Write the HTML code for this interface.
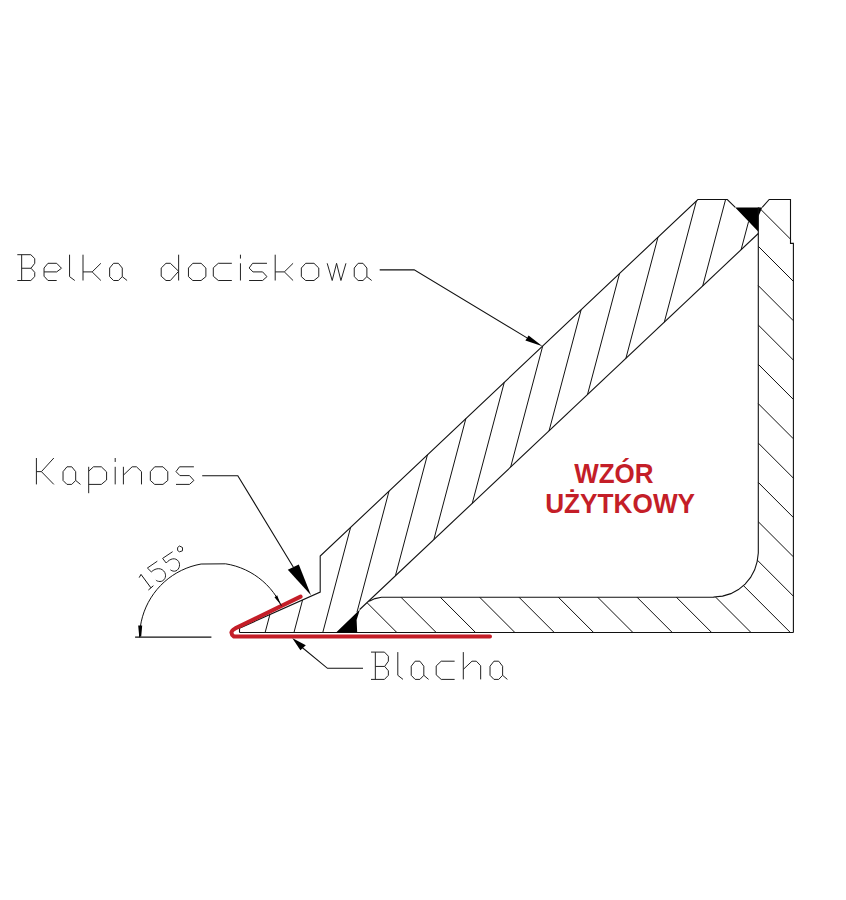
<!DOCTYPE html>
<html><head><meta charset="utf-8"><style>
html,body{margin:0;padding:0;background:#fff;width:846px;height:900px;overflow:hidden}
svg{display:block}
text{font-family:"Liberation Sans",sans-serif}
</style></head><body>
<svg width="846" height="900" viewBox="0 0 846 900">
<rect width="846" height="900" fill="#fff"/>
<path d="M17.30,254.70 L30.82,254.70 L34.74,258.57 L34.74,263.30 L31.03,268.25 L34.74,272.33 L34.74,276.63 L30.82,280.50 L17.30,280.50 M21.66,254.70 L21.66,280.50 M21.66,268.25 L31.03,268.25 M44.04,271.90 L56.68,271.90 L61.48,268.25 L56.68,263.30 L47.96,263.30 L44.04,268.03 L44.04,276.20 L47.96,280.50 L56.68,280.50 M69.55,254.70 L69.55,276.63 L74.78,280.50 M83.00,254.70 L83.00,280.50 M83.00,271.90 L92.16,271.90 L100.88,263.30 M92.16,271.90 L100.88,280.50 M122.28,276.63 L118.36,280.50 L113.56,280.50 L109.64,276.63 L109.64,268.03 L113.56,263.30 L118.36,263.30 L122.28,268.03 L122.28,276.63 L127.08,280.50 M178.64,254.70 L178.64,280.50 M178.64,271.25 L170.36,263.30 L166.00,263.30 L161.20,268.03 L161.20,276.20 L166.00,280.50 L170.36,280.50 L178.64,271.25 M192.80,263.30 L201.08,263.30 L205.88,268.03 L205.88,276.63 L201.08,280.50 L192.80,280.50 L188.44,276.63 L188.44,268.03 Z M231.83,263.30 L218.31,263.30 L213.30,267.81 L213.30,276.20 L218.31,280.50 L231.83,280.50 M240.45,254.70 L240.45,258.57 M240.45,263.30 L240.45,280.50 M266.98,263.30 L252.59,263.30 L249.10,268.03 L253.02,271.90 L262.62,271.90 L266.98,276.63 L262.62,280.50 L249.10,280.50 M275.20,254.70 L275.20,280.50 M275.20,271.90 L284.36,271.90 L293.08,263.30 M284.36,271.90 L293.08,280.50 M305.70,263.30 L313.98,263.30 L318.78,268.03 L318.78,276.63 L313.98,280.50 L305.70,280.50 L301.34,276.63 L301.34,268.03 Z M327.20,263.30 L332.21,280.50 L336.57,263.30 L340.93,280.50 L345.95,263.30 M366.88,276.63 L362.96,280.50 L358.16,280.50 L354.24,276.63 L354.24,268.03 L358.16,263.30 L362.96,263.30 L366.88,268.03 L366.88,276.63 L371.68,280.50" stroke="#222" stroke-width="1.0" fill="none" stroke-linejoin="miter"/>
<path d="M36.40,458.00 L36.40,484.40 M36.40,471.64 L41.41,471.64 L53.84,458.00 M41.41,471.64 L53.84,484.40 M75.68,480.44 L71.76,484.40 L66.96,484.40 L63.04,480.44 L63.04,471.64 L66.96,466.80 L71.76,466.80 L75.68,471.64 L75.68,480.44 L80.48,484.40 M88.70,466.80 L88.70,493.20 M88.70,471.20 L93.50,466.80 L101.34,466.80 L106.58,471.86 L106.58,480.00 L101.34,484.40 L88.70,484.40 M115.20,458.00 L115.20,461.96 M115.20,466.80 L115.20,484.40 M123.40,466.80 L123.40,484.40 M123.40,475.16 L132.12,466.80 L136.48,466.80 L141.49,471.64 L141.49,484.40 M154.70,466.80 L162.98,466.80 L167.78,471.64 L167.78,480.44 L162.98,484.40 L154.70,484.40 L150.34,480.44 L150.34,471.64 Z M193.88,466.80 L179.49,466.80 L176.00,471.64 L179.92,475.60 L189.52,475.60 L193.88,480.44 L189.52,484.40 L176.00,484.40" stroke="#222" stroke-width="1.0" fill="none" stroke-linejoin="miter"/>
<path d="M371.00,652.10 L384.45,652.10 L388.36,656.20 L388.36,661.20 L384.67,666.43 L388.36,670.75 L388.36,675.31 L384.45,679.40 L371.00,679.40 M375.34,652.10 L375.34,679.40 M375.34,666.43 L384.67,666.43 M397.80,652.10 L397.80,675.31 L403.01,679.40 M423.82,675.31 L419.91,679.40 L415.14,679.40 L411.23,675.31 L411.23,666.21 L415.14,661.20 L419.91,661.20 L423.82,666.21 L423.82,675.31 L428.59,679.40 M454.64,661.20 L441.19,661.20 L436.20,665.98 L436.20,674.85 L441.19,679.40 L454.64,679.40 M463.30,652.10 L463.30,679.40 M463.30,669.39 L471.98,661.20 L476.32,661.20 L480.66,665.75 L480.66,679.40 M502.62,675.31 L498.71,679.40 L493.94,679.40 L490.03,675.31 L490.03,666.21 L493.94,661.20 L498.71,661.20 L502.62,666.21 L502.62,675.31 L507.39,679.40" stroke="#222" stroke-width="1.0" fill="none" stroke-linejoin="miter"/>
<path d="M379.70,269.90 L414.20,269.90 L527.00,337.90" stroke="#111" stroke-width="1.1" fill="none"/>
<path d="M542.50,346.30 L525.40,340.40 L528.60,335.40Z" fill="#000"/>
<path d="M202.20,475.70 L237.80,475.70 L293.40,567.20" stroke="#111" stroke-width="1.1" fill="none"/>
<path d="M311.00,595.30 L287.80,569.80 L298.80,564.60Z" fill="#000"/>
<path d="M363.00,668.30 L327.50,668.30 L301.60,647.00" stroke="#111" stroke-width="1.1" fill="none"/>
<path d="M292.20,638.00 L300.40,650.20 L305.80,645.20Z" fill="#000"/>
<path d="M239.50,628.20 L239.50,632.50" stroke="#111" stroke-width="1.1" fill="none"/>
<path d="M239.50,628.20 L320.20,592.10 L320.20,556.10 L697.90,199.50 L727.30,199.50 L735.30,207.30" stroke="#111" stroke-width="1.1" fill="none"/>
<path d="M758.30,233.50 L359.70,609.51" stroke="#111" stroke-width="1.1" fill="none"/>
<path d="M239.50,632.50 L793.40,632.50" stroke="#111" stroke-width="1.1" fill="none"/>
<path d="M735.20,207.40 L762.20,207.40 L758.40,216.50 L758.40,231.80Z" fill="#000"/>
<path d="M336.10,632.50 L359.90,609.60 L356.60,620.00 L357.20,632.50Z" fill="#000"/>
<path d="M762.20,207.40 L769.20,199.50 L790.50,199.50 L790.50,243.40 L793.40,243.40 L793.40,632.50" stroke="#111" stroke-width="1.1" fill="none"/>
<path d="M758.30,207.40 L758.30,553.00 L757.15,561.58 L754.65,569.84 L750.58,577.45 L745.11,584.11 L738.45,589.58 L730.84,593.65 L722.58,596.15 L714.00,597.00 L714.00,597.20 L381.50,597.20 L375.00,598.60 L369.20,601.30" stroke="#111" stroke-width="1.1" fill="none"/>
<path d="M269.88,614.61 L265.14,632.50" stroke="#111" stroke-width="1.0" fill="none"/>
<path d="M302.57,599.99 L293.96,632.50" stroke="#111" stroke-width="1.0" fill="none"/>
<path d="M350.60,527.40 L322.78,632.50" stroke="#111" stroke-width="1.0" fill="none"/>
<path d="M389.02,491.12 L356.98,612.17" stroke="#111" stroke-width="1.0" fill="none"/>
<path d="M427.45,454.84 L395.42,575.82" stroke="#111" stroke-width="1.0" fill="none"/>
<path d="M465.87,418.57 L433.83,539.58" stroke="#111" stroke-width="1.0" fill="none"/>
<path d="M504.29,382.29 L472.24,503.35" stroke="#111" stroke-width="1.0" fill="none"/>
<path d="M542.71,346.02 L510.65,467.11" stroke="#111" stroke-width="1.0" fill="none"/>
<path d="M581.13,309.74 L549.06,430.88" stroke="#111" stroke-width="1.0" fill="none"/>
<path d="M619.56,273.47 L587.48,394.65" stroke="#111" stroke-width="1.0" fill="none"/>
<path d="M657.98,237.19 L625.89,358.41" stroke="#111" stroke-width="1.0" fill="none"/>
<path d="M696.40,200.92 L664.30,322.18" stroke="#111" stroke-width="1.0" fill="none"/>
<path d="M725.59,199.50 L702.71,285.94" stroke="#111" stroke-width="1.0" fill="none"/>
<path d="M748.60,221.46 L741.12,249.71" stroke="#111" stroke-width="1.0" fill="none"/>
<path d="M790.20,199.50 L790.50,199.80" stroke="#111" stroke-width="1.0" fill="none"/>
<path d="M758.75,207.40 L790.50,239.15" stroke="#111" stroke-width="1.0" fill="none"/>
<path d="M758.30,246.30 L793.40,281.40" stroke="#111" stroke-width="1.0" fill="none"/>
<path d="M758.30,285.65 L793.40,320.75" stroke="#111" stroke-width="1.0" fill="none"/>
<path d="M758.30,325.00 L793.40,360.10" stroke="#111" stroke-width="1.0" fill="none"/>
<path d="M758.30,364.35 L793.40,399.45" stroke="#111" stroke-width="1.0" fill="none"/>
<path d="M758.30,403.70 L793.40,438.80" stroke="#111" stroke-width="1.0" fill="none"/>
<path d="M758.30,443.05 L793.40,478.15" stroke="#111" stroke-width="1.0" fill="none"/>
<path d="M758.30,482.40 L793.40,517.50" stroke="#111" stroke-width="1.0" fill="none"/>
<path d="M758.30,521.75 L793.40,556.85" stroke="#111" stroke-width="1.0" fill="none"/>
<path d="M757.35,560.15 L793.40,596.20" stroke="#111" stroke-width="1.0" fill="none"/>
<path d="M743.38,585.53 L790.35,632.50" stroke="#111" stroke-width="1.0" fill="none"/>
<path d="M715.52,597.02 L751.00,632.50" stroke="#111" stroke-width="1.0" fill="none"/>
<path d="M676.35,597.20 L711.65,632.50" stroke="#111" stroke-width="1.0" fill="none"/>
<path d="M637.00,597.20 L672.30,632.50" stroke="#111" stroke-width="1.0" fill="none"/>
<path d="M597.65,597.20 L632.95,632.50" stroke="#111" stroke-width="1.0" fill="none"/>
<path d="M558.30,597.20 L593.60,632.50" stroke="#111" stroke-width="1.0" fill="none"/>
<path d="M518.95,597.20 L554.25,632.50" stroke="#111" stroke-width="1.0" fill="none"/>
<path d="M479.60,597.20 L514.90,632.50" stroke="#111" stroke-width="1.0" fill="none"/>
<path d="M440.25,597.20 L475.55,632.50" stroke="#111" stroke-width="1.0" fill="none"/>
<path d="M400.90,597.20 L436.20,632.50" stroke="#111" stroke-width="1.0" fill="none"/>
<path d="M367.29,602.94 L396.85,632.50" stroke="#111" stroke-width="1.0" fill="none"/>
<path d="M357.18,632.18 L357.50,632.50" stroke="#111" stroke-width="1.0" fill="none"/>
<path d="M300.6,596.6 L235.2,628.4 Q228.3,632.3 234,636.6 L490,636.6" stroke="#c41e28" stroke-width="4.0" fill="none" stroke-linecap="round" stroke-linejoin="round"/>
<path d="M135.10,637.10 L211.40,637.10" stroke="#111" stroke-width="1.1" fill="none"/>
<path d="M281.43,605.86 L279.07,601.23 L276.40,596.78 L273.42,592.52 L270.15,588.49 L266.61,584.69 L262.81,581.15 L258.78,577.88 L254.52,574.90 L250.07,572.23 L245.44,569.87 L240.66,567.84 L235.75,566.15 L230.74,564.81 L225.64,563.82 L201.08,564.03 L196.00,565.11 L191.01,566.54 L186.13,568.32 L181.39,570.43 L176.80,572.87 L172.40,575.62 L168.19,578.67 L164.22,582.01 L160.48,585.62 L157.01,589.48 L153.81,593.57 L150.91,597.87 L148.31,602.37 L146.03,607.04 L144.09,611.85 L142.48,616.79 L141.23,621.83 L140.32,626.95 L139.78,632.11 L139.60,637.30" stroke="#111" stroke-width="1.0" fill="none"/>
<path d="M139.20,636.60 L138.20,625.60 L142.20,625.60 L141.20,636.60Z" fill="#000"/>
<path d="M280.50,604.40 L274.50,597.20 L277.20,595.30Z" fill="#000"/>
<path d="M139.20,577.60 L141.00,574.40 L150.90,587.80" stroke="#111" stroke-width="1.0" fill="none"/>
<path d="M148.40,590.00 L153.40,585.70" stroke="#111" stroke-width="1.0" fill="none"/>
<path d="M157.3,561.2 L147.4,568 L151.3,571.9 C156,567.5 162,567.5 164.8,572.5 C167,577 164,581.5 160,581.5 C158,581.5 156.5,580.8 155.9,580" stroke="#222" stroke-width="1" fill="none"/>
<path d="M172.6,551.7 L162.6,558.4 L166.2,563 C170,558.5 175.5,557 178.6,561.5 C181,565.5 178.5,571 174.5,571.2 C172.5,571.2 171.2,570.5 170.4,569.8" stroke="#222" stroke-width="1" fill="none"/>
<path d="M177.6,547.5 L179.5,546 L182.5,547.5 L182.5,550.8 L179.5,551.8 L177.6,550.5 Z" stroke="#222" stroke-width="1" fill="none"/>
<text transform="translate(574.2,482.9) scale(1,1.035)" x="0" y="0" font-family="Liberation Sans" font-weight="bold" font-size="26" fill="#c41e28">WZÓR</text>
<text transform="translate(545.2,513.3) scale(1,1.035)" x="0" y="0" font-family="Liberation Sans" font-weight="bold" font-size="26.2" fill="#c41e28">UŻYTKOWY</text>
</svg></body></html>
